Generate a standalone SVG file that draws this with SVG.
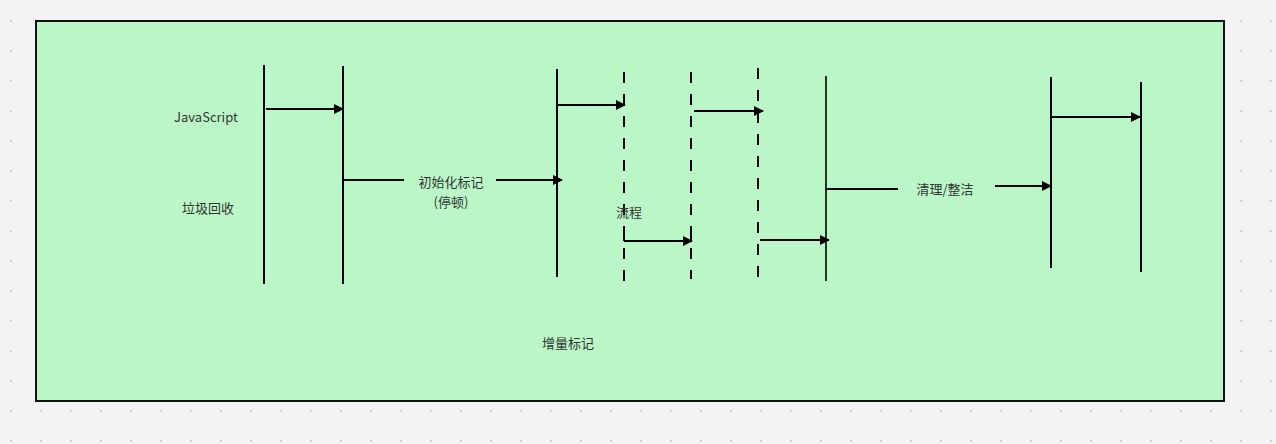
<svg xmlns="http://www.w3.org/2000/svg" width="1276" height="444" viewBox="0 0 1276 444">
<defs>
<pattern id="grid" x="10" y="20" width="30" height="30" patternUnits="userSpaceOnUse">
<rect x="0" y="0" width="2" height="2" fill="#cfcfd4"/>
</pattern>
<marker id="arr" viewBox="0 0 10 10" refX="9" refY="5" markerWidth="10" markerHeight="10" markerUnits="userSpaceOnUse" orient="auto">
<path d="M0,0 L10,5 L0,10 Z" fill="#000"/>
</marker>
<style>
.ln{stroke:#000;stroke-width:2;fill:none}
.dash{stroke:#000;stroke-width:2;fill:none;stroke-dasharray:11 11}
.t{font-family:"Noto Sans CJK SC","Noto Sans",sans-serif;font-size:13px;fill:#333;text-anchor:middle}
</style>
</defs>
<rect width="1276" height="444" fill="#f3f3f5"/>
<rect width="1276" height="444" fill="url(#grid)"/>
<g id="frame">
<rect x="36" y="21" width="1188" height="380" fill="#bbf7c6" stroke="#111" stroke-width="2"/>
</g>
<g id="labels">
<text class="t" x="206" y="122">JavaScript</text>
<text class="t" x="208" y="213">垃圾回收</text>
<text class="t" x="568" y="348">增量标记</text>
</g>
<g id="lifelines">
<line class="ln" x1="264" y1="65" x2="264" y2="284"/>
<line class="ln" x1="343" y1="66" x2="343" y2="284"/>
<line class="ln" x1="557" y1="69" x2="557" y2="277"/>
<line class="dash" x1="624" y1="72" x2="624" y2="284"/>
<line class="dash" x1="691" y1="72" x2="691" y2="279"/>
<line class="dash" x1="758" y1="68" x2="758" y2="277"/>
<line class="ln" x1="826" y1="76" x2="826" y2="281" style="stroke-width:1.6"/>
<line class="ln" x1="1051" y1="77" x2="1051" y2="268"/>
<line class="ln" x1="1141" y1="82" x2="1141" y2="272"/>
</g>
<g id="connectors">
<line class="ln" x1="266" y1="109" x2="343" y2="109" marker-end="url(#arr)"/>
<line class="ln" x1="344" y1="180" x2="404" y2="180"/>
<line class="ln" x1="496" y1="180" x2="562" y2="180" marker-end="url(#arr)"/>
<line class="ln" x1="558" y1="105" x2="625" y2="105" marker-end="url(#arr)"/>
<line class="ln" x1="624" y1="230" x2="624" y2="241"/>
<line class="ln" x1="624" y1="241" x2="692" y2="241" marker-end="url(#arr)"/>
<line class="ln" x1="691" y1="230" x2="691" y2="241"/>
<line class="ln" x1="694" y1="111" x2="763" y2="111" marker-end="url(#arr)"/>
<line class="ln" x1="758" y1="111" x2="758" y2="122"/>
<line class="ln" x1="760" y1="240" x2="829" y2="240" marker-end="url(#arr)"/>
<line class="ln" x1="825" y1="189" x2="898" y2="189"/>
<line class="ln" x1="995" y1="186" x2="1051" y2="186" marker-end="url(#arr)"/>
<line class="ln" x1="1052" y1="117" x2="1140" y2="117" marker-end="url(#arr)"/>
</g>
<g id="edge-labels">
<text class="t" x="451" y="187">初始化标记</text>
<text class="t" x="451" y="207">(停顿)</text>
<text class="t" x="629" y="217">流程</text>
<text class="t" x="945" y="194">清理/整洁</text>
</g>
</svg>
